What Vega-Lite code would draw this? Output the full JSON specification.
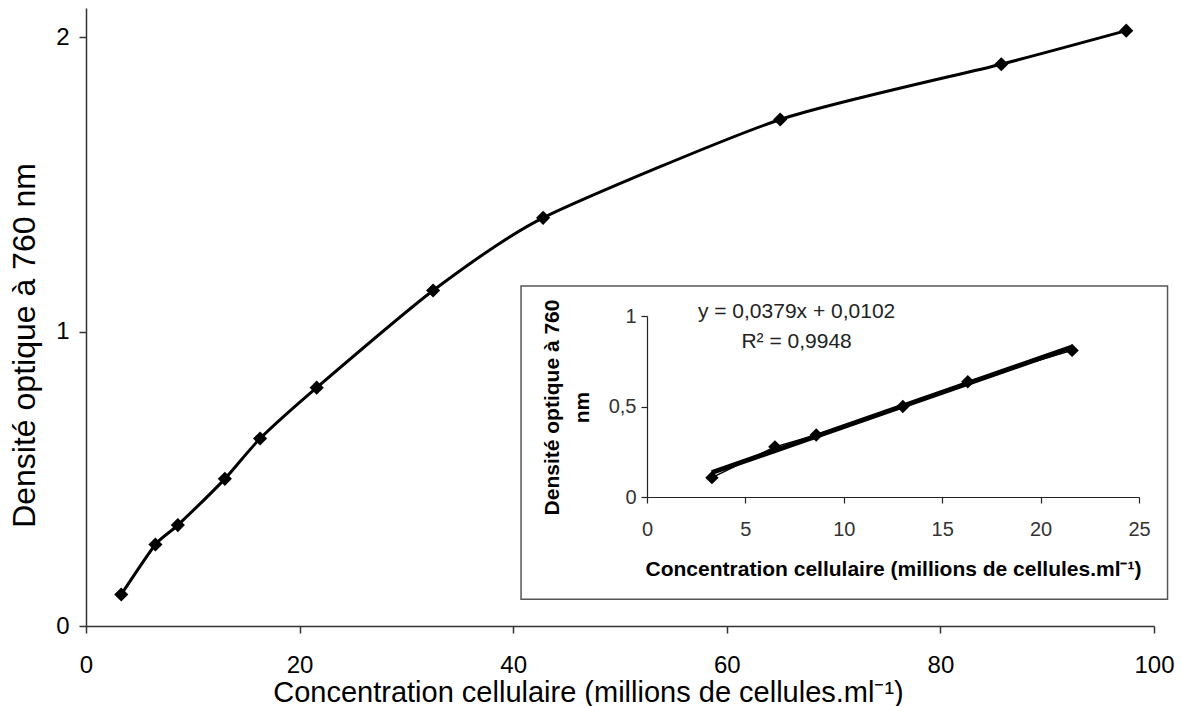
{
  "$schema": "https://vega.github.io/schema/vega-lite/v6.json",
  "width": 1068,
  "height": 618,
  "autosize": {"type": "none"},
  "padding": {"left": 86, "top": 8, "right": 27, "bottom": 80},
  "background": "white",
  "config": {"view": {"stroke": null}, "font": "Liberation Sans"},
  "datasets": {
    "pts": [
      {"x": 3.3, "y": 0.107},
      {"x": 6.5, "y": 0.277},
      {"x": 8.6, "y": 0.343},
      {"x": 13.0, "y": 0.5},
      {"x": 16.3, "y": 0.637},
      {"x": 21.6, "y": 0.81},
      {"x": 32.5, "y": 1.14},
      {"x": 42.8, "y": 1.387},
      {"x": 65.0, "y": 1.721},
      {"x": 85.7, "y": 1.909},
      {"x": 97.4, "y": 2.023}
    ],
    "trend": [
      {"x": 3.3, "y": 0.1353},
      {"x": 21.6, "y": 0.8288}
    ]
  },
  "layer": [
    {
      "data": {"name": "pts"},
      "mark": {"type": "line", "color": "#000", "strokeWidth": 3, "interpolate": "cardinal", "tension": 0.35},
      "encoding": {
        "x": {"field": "x", "type": "quantitative", "scale": {"domain": [0, 100], "nice": false, "zero": false}, "axis": null},
        "y": {"field": "y", "type": "quantitative", "scale": {"domain": [0, 2.1], "nice": false, "zero": false}, "axis": null}
      }
    },
    {
      "data": {"name": "pts"},
      "mark": {"type": "point", "shape": "diamond", "filled": true, "color": "#000", "opacity": 1, "size": 200},
      "encoding": {
        "x": {
          "field": "x", "type": "quantitative",
          "scale": {"domain": [0, 100], "nice": false, "zero": false},
          "axis": {
            "orient": "bottom", "values": [0, 20, 40, 60, 80, 100], "format": "d", "grid": false, "labelOverlap": false, "labelFlush": false,
            "domainColor": "#333", "domainWidth": 1.5, "tickColor": "#333", "tickWidth": 1.5, "tickSize": 7,
            "labelFont": "Liberation Sans", "labelFontSize": 24, "labelColor": "#000", "labelPadding": 20,
            "title": "Concentration cellulaire (millions de cellules.ml⁻¹)",
            "titleFont": "Liberation Sans", "titleFontSize": 29, "titleFontWeight": "normal", "titleColor": "#000",
            "titleX": 502, "titleY": 75, "titleBaseline": "alphabetic", "titleAlign": "center"
          }
        },
        "y": {
          "field": "y", "type": "quantitative",
          "scale": {"domain": [0, 2.1], "nice": false, "zero": false},
          "axis": {
            "orient": "left", "values": [0, 1, 2], "grid": false, "labelOverlap": false, "labelFlush": false,
            "labelExpr": "format(datum.value, '.0f')",
            "domainColor": "#333", "domainWidth": 1.5, "tickColor": "#333", "tickWidth": 1.5, "tickSize": 7,
            "labelFont": "Liberation Sans", "labelFontSize": 24, "labelColor": "#000", "labelPadding": 10,
            "title": "Densité optique à 760 nm",
            "titleFont": "Liberation Sans", "titleFontSize": 32, "titleFontWeight": "normal", "titleColor": "#000",
            "titleX": -62, "titleY": 337, "titleAngle": -90, "titleBaseline": "middle", "titleAlign": "center"
          }
        }
      }
    },
    {
      "data": {"values": [{}]},
      "mark": {"type": "rect", "fill": "white", "stroke": "#555", "strokeWidth": 1.5},
      "encoding": {
        "x": {"datum": -6.4, "type": "quantitative", "scale": {"domain": [0, 25], "range": [561, 1053], "nice": false, "zero": false}, "axis": null},
        "x2": {"datum": 26.45},
        "y": {"datum": 1.166, "type": "quantitative", "scale": {"domain": [0, 1], "range": [489, 308], "nice": false, "zero": false}, "axis": null},
        "y2": {"datum": -0.565}
      }
    },
    {
      "data": {"name": "pts"},
      "transform": [{"filter": "datum.x < 25"}],
      "mark": {"type": "line", "color": "#000", "strokeWidth": 1.5},
      "encoding": {
        "x": {"field": "x", "type": "quantitative", "scale": {"domain": [0, 25], "range": [561, 1053], "nice": false, "zero": false}, "axis": null},
        "y": {"field": "y", "type": "quantitative", "scale": {"domain": [0, 1], "range": [489, 308], "nice": false, "zero": false}, "axis": null}
      }
    },
    {
      "data": {"name": "trend"},
      "mark": {"type": "line", "color": "#000", "strokeWidth": 5},
      "encoding": {
        "x": {"field": "x", "type": "quantitative", "scale": {"domain": [0, 25], "range": [561, 1053], "nice": false, "zero": false}, "axis": null},
        "y": {"field": "y", "type": "quantitative", "scale": {"domain": [0, 1], "range": [489, 308], "nice": false, "zero": false}, "axis": null}
      }
    },
    {
      "data": {"name": "pts"},
      "transform": [{"filter": "datum.x < 25"}],
      "mark": {"type": "point", "shape": "diamond", "filled": true, "color": "#000", "opacity": 1, "size": 180},
      "encoding": {
        "x": {
          "field": "x", "type": "quantitative",
          "scale": {"domain": [0, 25], "range": [561, 1053], "nice": false, "zero": false},
          "axis": {
            "orient": "bottom", "offset": -129, "zindex": 2, "values": [0, 5, 10, 15, 20, 25], "format": "d", "grid": false, "labelOverlap": false, "labelFlush": false,
            "domainColor": "#222", "domainWidth": 1.2, "tickColor": "#222", "tickWidth": 1.2, "tickSize": 6,
            "labelFont": "Liberation Sans", "labelFontSize": 20, "labelColor": "#333", "labelPadding": 16,
            "title": "Concentration cellulaire (millions de cellules.ml⁻¹)",
            "titleFont": "Liberation Sans", "titleFontSize": 21, "titleFontWeight": "bold", "titleColor": "#000",
            "titleX": 807, "titleY": 78, "titleBaseline": "alphabetic", "titleAlign": "center"
          }
        },
        "y": {
          "field": "y", "type": "quantitative",
          "scale": {"domain": [0, 1], "range": [489, 308], "nice": false, "zero": false},
          "axis": {
            "orient": "right", "offset": -507, "zindex": 2, "values": [0, 0.5, 1], "grid": false, "labelOverlap": false, "labelFlush": false,
            "labelExpr": "replace(format(datum.value, '~g'), '.', ',')",
            "labelAlign": "right",
            "domainColor": "#222", "domainWidth": 1.2, "tickColor": "#222", "tickWidth": 1.2, "tickSize": -6,
            "labelFont": "Liberation Sans", "labelFontSize": 20, "labelColor": "#333", "labelPadding": -5,
            "title": ["Densité optique à 760", "nm"],
            "titleFont": "Liberation Sans", "titleFontSize": 21, "titleFontWeight": "bold", "titleColor": "#000",
            "titleLineHeight": 30,
            "titleX": -95, "titleY": 399, "titleAngle": -90, "titleBaseline": "middle", "titleAlign": "center"
          }
        }
      }
    },
    {
      "data": {"values": [{}]},
      "mark": {"type": "text", "font": "Liberation Sans", "fontSize": 21, "color": "#222", "align": "center", "baseline": "middle"},
      "encoding": {
        "x": {"datum": 7.6, "type": "quantitative", "scale": {"domain": [0, 25], "range": [561, 1053], "nice": false, "zero": false}, "axis": null},
        "y": {"datum": 1.024, "type": "quantitative", "scale": {"domain": [0, 1], "range": [489, 308], "nice": false, "zero": false}, "axis": null},
        "text": {"value": "y = 0,0379x + 0,0102"}
      }
    },
    {
      "data": {"values": [{}]},
      "mark": {"type": "text", "font": "Liberation Sans", "fontSize": 21, "color": "#222", "align": "center", "baseline": "middle"},
      "encoding": {
        "x": {"datum": 7.6, "type": "quantitative", "scale": {"domain": [0, 25], "range": [561, 1053], "nice": false, "zero": false}, "axis": null},
        "y": {"datum": 0.858, "type": "quantitative", "scale": {"domain": [0, 1], "range": [489, 308], "nice": false, "zero": false}, "axis": null},
        "text": {"value": "R² = 0,9948"}
      }
    }
  ],
  "resolve": {"scale": {"x": "independent", "y": "independent"}, "axis": {"x": "independent", "y": "independent"}}
}
